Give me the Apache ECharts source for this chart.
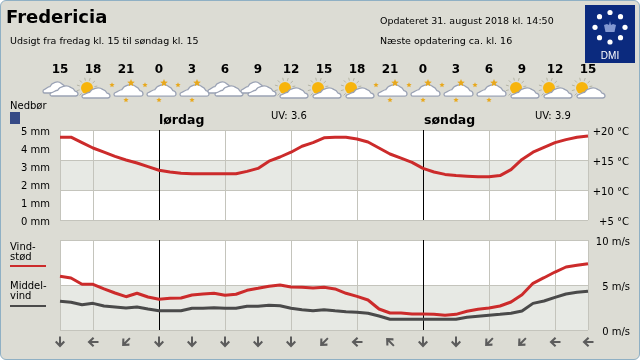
<!DOCTYPE html>
<html>
<head>
<meta charset="utf-8">
<style>
html,body{margin:0;padding:0;background:#fff}
#panel{position:absolute;left:0;top:0;width:638px;height:358px;background:#dcdcd4;border:1px solid #8fb0c4;border-radius:6px}
#main{position:absolute;left:0;top:0;width:640px;height:360px}
</style>
<script src="https://cdn.jsdelivr.net/npm/echarts@6/dist/echarts.min.js"></script>
</head>
<body>
<div id="panel"></div>
<div id="main"></div>
<script>
// hour of day along the x axis, one per hour
var hours = [15,16,17,18,19,20,21,22,23,0,1,2,3,4,5,6,7,8,9,10,11,12,13,14,15,16,17,18,19,20,21,22,23,0,1,2,3,4,5,6,7,8,9,10,11,12,13,14,15]
var temperature = [18.8,18.8,17.9,17.0,16.3,15.6,15.0,14.5,13.9,13.3,13.0,12.8,12.7,12.7,12.7,12.7,12.7,13.1,13.6,14.8,15.5,16.3,17.3,17.9,18.7,18.8,18.8,18.5,18.0,17.0,16.0,15.3,14.6,13.6,13.0,12.6,12.4,12.3,12.2,12.2,12.4,13.4,15.1,16.3,17.1,17.9,18.4,18.8,19.0]
var rain = [0,0,0,0,0,0,0,0,0,0,0,0,0,0,0,0,0,0,0,0,0,0,0,0,0,0,0,0,0,0,0,0,0,0,0,0,0,0,0,0,0,0,0,0,0,0,0,0,0]
var gust = [5.97,5.78,5.08,5.08,4.56,4.11,3.7,4.08,3.67,3.41,3.52,3.56,3.89,4.0,4.08,3.86,3.97,4.41,4.63,4.86,5.0,4.78,4.74,4.67,4.74,4.56,4.08,3.74,3.33,2.33,1.89,1.89,1.78,1.78,1.74,1.63,1.74,2.08,2.3,2.44,2.67,3.11,3.92,5.19,5.81,6.44,7.0,7.19,7.37]
var meanWind = [3.19,3.08,2.81,2.96,2.67,2.56,2.44,2.56,2.33,2.14,2.14,2.14,2.41,2.41,2.48,2.41,2.41,2.63,2.63,2.74,2.70,2.41,2.26,2.14,2.26,2.14,2.03,1.97,1.86,1.56,1.19,1.19,1.19,1.19,1.19,1.19,1.19,1.41,1.52,1.63,1.74,1.86,2.11,2.96,3.22,3.63,4.0,4.19,4.3]
// every third hour: weather icon and wind direction (degrees, 0 = from north)
var icons = ['cloud','sun','night','night','night','cloud','cloud','sun','sun','sun','night','night','night','night','sun','sun','sun']
var windDir = [0,90,45,0,0,0,0,0,45,90,135,0,0,45,45,90,90]
var midnights = [9,33]

var FONT = '"DejaVu Sans"'
var GRIDLINE = '#c4c4bc'
var BAND = '#e7e9e4'
var CLOUD = 'M2 12C0 12 -0.5 9 2 8.5C4 8 6 6 8 6C10 2 17 0 21 3C24 4 25 6 25.5 7C29 7.5 29.5 12 26 12Z'
var ARROW = 'path://M4 0H6V6.5L8.6 4L10 5.4L5 10.5L0 5.4L1.4 4L4 6.5Z'

function every3(i){ return i % 3 === 0 }

function cloud(x,y,w,h){
    return {type:'path',shape:{pathData:CLOUD,layout:'cover',x:x,y:y,width:w,height:h},
        style:{fill:'#fff',stroke:'#9aa2b4',lineWidth:1.3}}
}
function star(x,y,r){
    var pts = []
    for(var i=0;i<10;i++){
        var a = Math.PI*i/5 - Math.PI/2, d = i%2 ? r*0.45 : r
        pts.push([x+d*Math.cos(a),y+d*Math.sin(a)])
    }
    return {type:'polygon',shape:{points:pts},style:{fill:'#e8a81c'}}
}
function sun(x,y){
    var out = []
    for(var i=0;i<9;i++){
        var a = Math.PI*(0.75+i*0.17)
        out.push({type:'line',shape:{x1:x+7.5*Math.cos(a),y1:y+7.5*Math.sin(a),x2:x+10.5*Math.cos(a),y2:y+10.5*Math.sin(a)},
            style:{stroke:'#b4b4a4',lineWidth:1}})
    }
    out.push({type:'circle',shape:{cx:x,cy:y,r:6},style:{fill:'#f7b40c'}})
    return out
}
function renderIcon(params,api){
    var p = api.coord([api.value(0),0.5])
    var kind = icons[params.dataIndex], kids
    if(kind==='cloud') kids = [cloud(-17,-11,25,11),cloud(-10,-7,28,10)]
    else if(kind==='sun') kids = sun(-6,-5).concat([cloud(-11,-5,28,10)])
    else kids = [star(-14,-8,2.8),cloud(-12,-8.3,29,11.5),star(5,-10,4),star(0,7,2.8)]
    return {type:'group',x:p[0],y:p[1],children:kids}
}

function text(x,y,str,size,bold){
    return {type:'text',x:x,y:y,style:{text:str,font:(bold?'bold ':'')+size+'px '+FONT,fill:'#000',textVerticalAlign:'middle'}}
}
function hbar(x,y,w,h,color){
    return {type:'rect',shape:{x:x,y:y,width:w,height:h},style:{fill:color}}
}

// the crown logo block in the corner
var logo = [hbar(585,5,50,58,'#0b2a7e')]
;[[610,12.5],[620.5,16.7],[625,27.3],[620.5,37.7],[610,42],[599.5,37.7],[595,27.3],[599.5,16.7]].forEach(function(d){
    logo.push({type:'circle',shape:{cx:d[0],cy:d[1],r:2.6},style:{fill:'#fff'}})
})
logo.push({type:'polygon',shape:{points:[[604,25],[607,24],[609,25],[610,21],[611,25],[613,24],[616,25],[614.5,32],[605.5,32]]},
    style:{fill:'#8398d2'}})
logo.push({type:'text',x:610,y:56,style:{text:'DMI',font:'10px "Liberation Sans"',fill:'#fff',textAlign:'center',textVerticalAlign:'middle'}})

var chart = echarts.init(document.getElementById('main'))
chart.setOption({
    animation:false,
    textStyle:{fontFamily:FONT},
    grid:[
        {left:60,top:130,width:528,height:90},
        {left:60,top:240,width:528,height:90},
        {left:60,top:78,width:528,height:30},
        {left:60,top:335,width:528,height:14}
    ],
    xAxis:[0,1].map(function(g){
        return {type:'category',gridIndex:g,data:hours,boundaryGap:false,
            axisLine:{show:false},axisTick:{show:false},axisLabel:{show:false},
            splitLine:{show:true,interval:function(i){return (i-3)%6===0 || i===48 || i===0},lineStyle:{color:GRIDLINE,width:1}}}
    }).concat([
        {type:'category',gridIndex:2,position:'top',data:hours,boundaryGap:false,
            axisLine:{show:false},axisTick:{show:false},splitLine:{show:false},
            axisLabel:{interval:every3,margin:2,fontSize:12,fontWeight:'bold',color:'#000',fontFamily:FONT}},
        {type:'category',gridIndex:3,data:hours,boundaryGap:false,
            axisLine:{show:false},axisTick:{show:false},axisLabel:{show:false},splitLine:{show:false}}
    ]),
    yAxis:[
        {type:'value',gridIndex:0,position:'right',min:5,max:20,interval:5,
            axisLine:{show:false},axisTick:{show:false},
            splitLine:{show:true,lineStyle:{color:GRIDLINE}},
            splitArea:{show:true,areaStyle:{color:['#fff',BAND]}},
            axisLabel:{align:'right',margin:41,fontSize:10,color:'#000',verticalAlign:'top',lineHeight:4,formatter:function(v){return '+'+v+' °C'}}},
        {type:'value',gridIndex:0,position:'left',min:0,max:5,interval:1,
            axisLine:{show:false},axisTick:{show:false},splitLine:{show:false},
            axisLabel:{margin:10,fontSize:10,color:'#000',verticalAlign:'top',lineHeight:4,formatter:'{value} mm'}},
        {type:'value',gridIndex:1,position:'right',min:0,max:10,interval:5,
            axisLine:{show:false},axisTick:{show:false},
            splitLine:{show:true,lineStyle:{color:GRIDLINE}},
            splitArea:{show:true,areaStyle:{color:[BAND,'#fff']}},
            axisLabel:{align:'right',margin:42,fontSize:10,color:'#000',verticalAlign:'top',lineHeight:4,formatter:'{value} m/s'}},
        {type:'value',gridIndex:2,min:0,max:1,show:false},
        {type:'value',gridIndex:3,min:0,max:1,show:false}
    ],
    series:[
        {type:'bar',xAxisIndex:0,yAxisIndex:1,data:rain,itemStyle:{color:'#364a86'}},
        {type:'line',xAxisIndex:0,yAxisIndex:0,data:temperature,symbol:'none',z:5,
            lineStyle:{color:'#cc2b2b',width:3},
            markLine:{silent:true,symbol:'none',label:{show:false},z:4,lineStyle:{color:'#000',width:1,type:'solid'},
                data:midnights.map(function(i){return {xAxis:i}})}},
        {type:'line',xAxisIndex:1,yAxisIndex:2,data:meanWind,symbol:'none',z:5,
            lineStyle:{color:'#4a4a4a',width:3},
            markLine:{silent:true,symbol:'none',label:{show:false},z:4,lineStyle:{color:'#000',width:1,type:'solid'},
                data:midnights.map(function(i){return {xAxis:i}})}},
        {type:'line',xAxisIndex:1,yAxisIndex:2,data:gust,symbol:'none',z:6,
            lineStyle:{color:'#cc2b2b',width:3}},
        {type:'custom',xAxisIndex:2,yAxisIndex:3,renderItem:renderIcon,
            data:icons.map(function(k,i){return [i*3,0.5]})},
        {type:'scatter',xAxisIndex:3,yAxisIndex:4,symbol:ARROW,symbolSize:[10,11],
            itemStyle:{color:'#5c5c5c',opacity:1},
            data:windDir.map(function(d,i){return {value:[i*3,0.5],symbolRotate:-d}})}
    ],
    graphic:[
        text(6,18,'Fredericia',18,true),
        text(10,41.5,'Udsigt fra fredag kl. 15 til søndag kl. 15',9.5),
        text(380,21.5,'Opdateret 31. august 2018 kl. 14:50',9.5),
        text(380,41.5,'Næste opdatering ca. kl. 16',9.5),
        text(10,106.5,'Nedbør',10),
        hbar(10,112,10,12,'#364a86'),
        text(159,120.5,'lørdag',12.5,true),
        text(424,120.5,'søndag',12.5,true),
        text(271,116,'UV: 3.6',10),
        text(535,116,'UV: 3.9',10),
        text(10,247,'Vind-',10),
        text(10,257,'stød',10),
        hbar(10,265,36,2,'#cc2b2b'),
        text(10,286.5,'Middel-',10),
        text(10,296.5,'vind',10),
        hbar(10,305,36,2,'#4a4a4a')
    ].concat(logo)
})
</script>
</body>
</html>
